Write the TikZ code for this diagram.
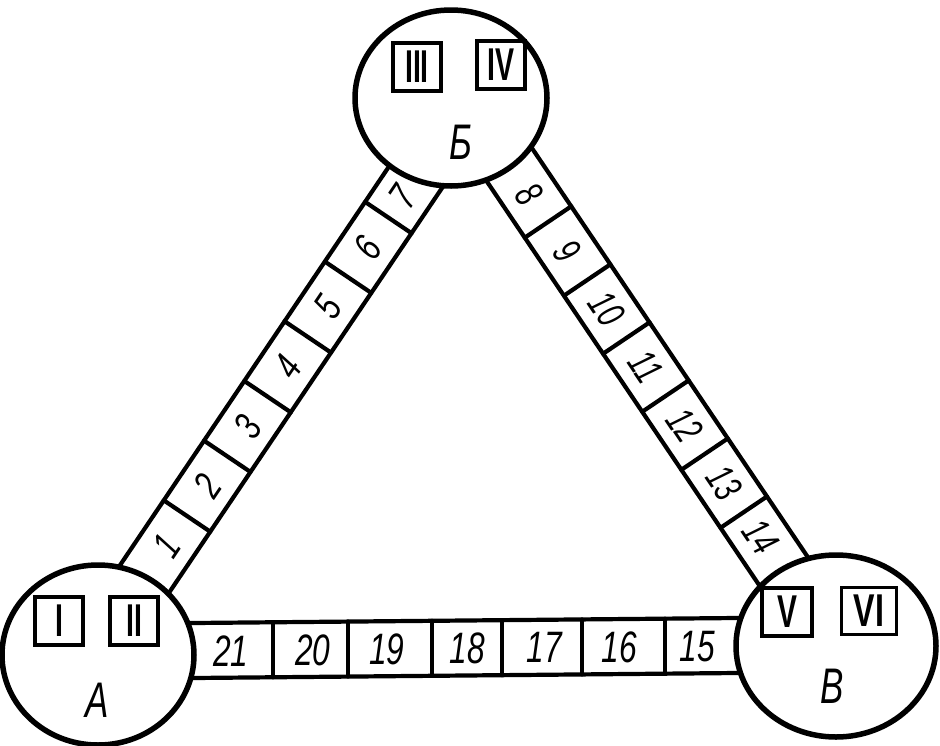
\documentclass[tikz,border=0pt]{standalone}
\usepackage{graphicx}
\usepackage{fontspec}
\newfontfamily\lsans{Liberation Sans}
\usetikzlibrary{shapes.geometric}
\begin{document}
\begin{tikzpicture}[x=1pt,y=-1pt,
  station/.style={draw, ellipse, line width=5.5pt, fill=white, inner sep=0pt},
  bandline/.style={line width=4.2pt, line cap=round},
  romanbox/.style={draw, line width=3.8pt, minimum width=48pt, minimum height=48pt, inner sep=0pt, font=\lsans\bfseries\fontsize{46}{46}\selectfont},
  cellnum/.style={inner sep=0pt, font=\lsans\itshape\fontsize{44}{44}\selectfont},
  slantnum/.style={inner sep=0pt, font=\lsans\itshape\fontsize{40}{40}\selectfont},
  stlabel/.style={inner sep=0pt, font=\lsans\itshape\fontsize{50}{50}\selectfont}]
\useasboundingbox (0,0) rectangle (940,745);

% left band (A -- B), cells 1..7
\begin{scope}[shift={(187,516)}, rotate=56]
  \draw[bandline] (-110,-28) -- (450,-28);
  \draw[bandline] (-110,28) -- (450,28);
  \foreach \t in {0,72,...,360} \draw[bandline] (\t,-28) -- (\t,28);
  \foreach \n/\t in {1/-36, 2/36, 3/108, 4/180, 5/252, 6/324, 7/385}
    \node[slantnum, rotate=56] (c\n) at (\t,0) {\scalebox{0.75}[1]{\n}};
\end{scope}

% right band (B -- V), cells 8..14
\begin{scope}[shift={(548,222)}, rotate=-56]
  \draw[bandline] (-110,-28) -- (460,-28);
  \draw[bandline] (-110,28) -- (460,28);
  \foreach \t in {0,70,...,350} \draw[bandline] (\t,-28) -- (\t,28);
  \foreach \n/\t in {8/-33, 9/35, 10/105, 11/175, 12/245, 13/315, 14/380}
    \node[slantnum, rotate=-56] (c\n) at (\t,0) {\scalebox{0.7}[1]{\n}};
\end{scope}

% bottom band (A -- V), cells 21..15
\draw[bandline] (150,623.4) -- (780,617.6);
\draw[bandline] (150,678.4) -- (780,672.6);
\foreach \x in {273,348,432,502,582,665} {
  \pgfmathsetmacro{\yt}{623-5*(\x-193)/544}
  \draw[bandline] (\x,\yt) -- (\x,\yt+55);
}
\foreach \n/\x in {21/231, 20/313, 19/387, 18/467, 17/544, 16/619, 15/697} {
  \pgfmathsetmacro{\ym}{651-5*(\x-193)/544}
  \node[cellnum] (c\n) at (\x,\ym) {\scalebox{0.72}[1]{\n}};
}

% stations
\node[station, minimum width=192pt, minimum height=180pt] (A) at (98,655) {};
\node[station, minimum width=192pt, minimum height=176pt] (B) at (451,98) {};
\node[station, minimum width=200pt, minimum height=182pt] (V) at (836,646) {};

% station contents
\node[romanbox] (r3) at (417,67) {\scalebox{0.62}[1]{III}};
\node[romanbox] (r4) at (501,65) {\scalebox{0.62}[1]{IV}};
\node[romanbox] (r1) at (59,621) {\scalebox{0.62}[1]{I}};
\node[romanbox] (r2) at (134,621) {\scalebox{0.62}[1]{II}};
\node[romanbox, minimum width=50pt] (r5) at (787,612) {\scalebox{0.65}[1]{V}};
\node[romanbox, minimum width=55pt, minimum height=47pt] (r6) at (869,611) {\scalebox{0.7}[1]{VI}};

\node[stlabel] (lB) at (461,142) {\scalebox{0.7}[1]{Б}};
\node[stlabel] (lA) at (97,700) {\scalebox{0.7}[1]{А}};
\node[stlabel] (lV) at (832,686) {\scalebox{0.7}[1]{В}};
\end{tikzpicture}
\end{document}
